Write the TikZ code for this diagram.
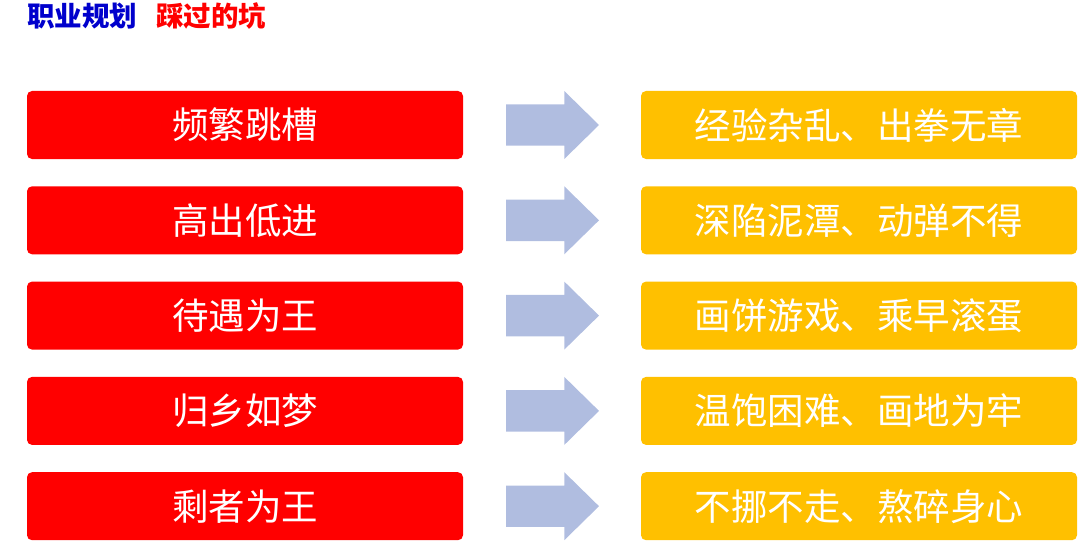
\documentclass[tikz,border=0pt]{standalone}
\usepackage{fontspec}
\newfontfamily\cjk{Noto Sans CJK SC}
\definecolor{boxred}{HTML}{FF0000}
\definecolor{boxyellow}{HTML}{FFC000}
\definecolor{arrowblue}{HTML}{B0BDE0}
\definecolor{titleblue}{HTML}{0000CC}
\definecolor{titlered}{HTML}{FF0000}
\begin{document}
\begin{tikzpicture}[x=1pt,y=-1pt,
  box/.style={rounded corners=5pt, minimum width=436pt, minimum height=68pt, text=white, inner sep=0pt, font=\cjk\fontsize{36.5}{36.5}\selectfont},
  redbox/.style={box, fill=boxred},
  yelbox/.style={box, fill=boxyellow},
  title/.style={anchor=west, inner sep=0pt, font=\cjk\bfseries\fontsize{27.5}{27.5}\selectfont},
  flow/.style={fill=arrowblue}
]
\useasboundingbox (0,0) rectangle (1080,543);
\node[title, text=titleblue] (t1) at (27,16) {职业规划};
\node[title, text=titlered] (t2) at (156,16) {踩过的坑};
\foreach \i/\a/\b in {0/频繁跳槽/经验杂乱、出拳无章,1/高出低进/深陷泥潭、动弹不得,2/待遇为王/画饼游戏、乘早滚蛋,3/归乡如梦/温饱困难、画地为牢,4/剩者为王/不挪不走、熬碎身心}{
  \pgfmathsetmacro{\c}{125+95.3*\i}
  \node[redbox] (r\i) at (245,\c) {\a};
  \node[yelbox] (y\i) at (859,\c) {\b};
  \coordinate (a\i) at (506,\c);
  \fill[flow] (a\i) ++(0,-20.7) -- ++(58.3,0) -- ++(0,-13.3) -- ++(34.7,34) -- ++(-34.7,34) -- ++(0,-13.3) -- ++(-58.3,0) -- cycle;
}
\end{tikzpicture}
\end{document}
